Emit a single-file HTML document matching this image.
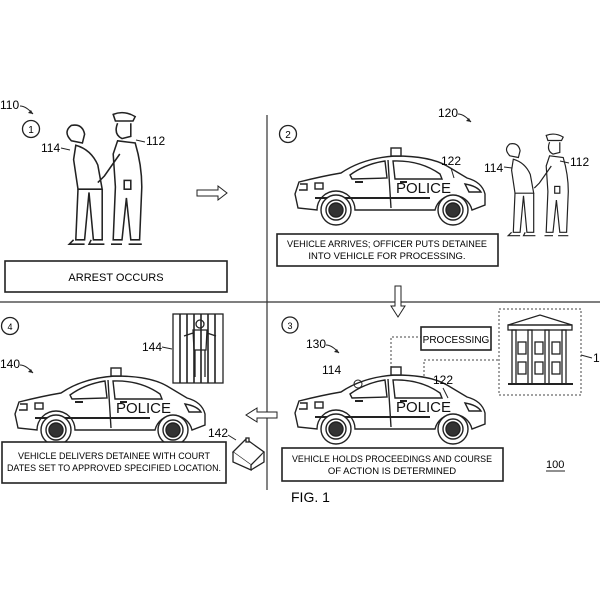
<!DOCTYPE html>
<html><head><style>
html,body{margin:0;padding:0;background:#fff;}
svg{display:block;font-family:"Liberation Sans",Arial,sans-serif;}
</style></head><body>
<svg width="600" height="600" viewBox="0 0 600 600" xmlns="http://www.w3.org/2000/svg">
<defs>
<g id="car" fill="none" stroke="#222" stroke-width="1.4">
  <path d="M3,60 L0,46 L4,34 Q28,28 46,25 Q68,10 100,8 Q135,8 152,18 L172,30 Q187,34 190,46 L190,57 L177,62 A19,19 0 0 0 140,62 L60,62 A19,19 0 0 0 22,62 Z" fill="#fff"/>
  <rect x="96" y="0" width="10" height="8" fill="#fff"/>
  <path d="M55,27 Q70,16 90,13 L92,30 L57,31 Z"/>
  <path d="M98,13 Q125,12 145,26 L147,31 L100,31 Z"/>
  <line x1="93" y1="12" x2="96" y2="60"/>
  <line x1="20" y1="50" x2="135" y2="50" stroke-width="2"/>
  <rect x="20" y="35" width="8" height="6"/>
  <path d="M5,36 L12,36 L12,42 L4,42"/>
  <path d="M170,36 Q182,38 186,44 L174,44 Z"/>
  <line x1="60" y1="34" x2="68" y2="34" stroke-width="2"/>
  <line x1="105" y1="34" x2="112" y2="34" stroke-width="2"/>
  <circle cx="41" cy="62" r="15" fill="#fff"/><circle cx="41" cy="62" r="10"/><circle cx="41" cy="62" r="7" fill="#333"/>
  <circle cx="158" cy="62" r="15" fill="#fff"/><circle cx="158" cy="62" r="10"/><circle cx="158" cy="62" r="7" fill="#333"/>
  <text x="101" y="45" font-size="15" fill="#111" stroke="none">POLICE</text>
</g>
<g id="detainee" fill="none" stroke="#222" stroke-width="1.4">
  <path d="M-6,-52 Q-14,-60 -6,-66 Q4,-68 6,-58 L4,-50 Z" fill="#fff"/>
  <path d="M-2,-48 Q12,-44 18,-30 L22,-8 L0,-8 L-4,-35 Z" fill="#fff"/>
  <path d="M0,-8 L-2,38 L6,38 L10,-5 L14,38 L22,38 L22,-8"/>
  <path d="M-4,38 L-8,42 L6,42 M12,38 L10,42 L24,42"/>
</g>
<g id="officer" fill="none" stroke="#222" stroke-width="1.4">
  <path d="M-6,-70 L10,-70 L12,-74 Q2,-80 -8,-76 Z" fill="#fff"/>
  <path d="M-4,-68 Q-8,-58 0,-54 L8,-56 L8,-68"/>
  <path d="M-4,-52 L12,-50 Q18,-30 18,-10 L16,38 L8,38 L4,0 L0,38 L-8,38 L-6,-10 L-8,-40 Z" fill="#fff"/>
  <path d="M-2,-40 L-16,-20 L-22,-14"/>
  <path d="M-10,42 L0,42 M6,42 L18,42"/>
  <rect x="2" y="-16" width="6" height="8"/>
</g>
</defs>

<line x1="0" y1="302" x2="600" y2="302" stroke="#333" stroke-width="1.2"/>
<line x1="267" y1="115" x2="267" y2="490" stroke="#333" stroke-width="1.2"/>

<!-- Panel 1 -->
<text x="0" y="109" font-size="12">110</text>
<path d="M20,106 Q26,106 33,114" fill="none" stroke="#222"/><path d="M33,114 l-5,-1 l3,-3 z" fill="#222"/>
<circle cx="31" cy="129" r="8.5" fill="#fff" stroke="#222" stroke-width="1.3"/>
<text x="31" y="133" font-size="10" text-anchor="middle">1</text>
<use href="#detainee" transform="translate(78,198) scale(1.1)"/>
<use href="#officer" transform="translate(122,198) scale(1.1)"/>
<text x="41" y="152" font-size="12">114</text><line x1="61" y1="148" x2="70" y2="150" stroke="#222"/>
<text x="146" y="145" font-size="12">112</text><line x1="136" y1="140" x2="145" y2="142" stroke="#222"/>
<path d="M197,190 L218,190 L218,186 L227,193 L218,200 L218,196 L197,196 Z" fill="#fff" stroke="#222"/>
<rect x="5" y="261" width="222" height="31" fill="#fff" stroke="#222" stroke-width="1.6"/>
<text x="116" y="281" font-size="11" text-anchor="middle">ARREST OCCURS</text>

<!-- Panel 2 -->
<text x="438" y="117" font-size="12">120</text>
<path d="M458,114 Q464,114 471,122" fill="none" stroke="#222"/><path d="M471,122 l-5,-1 l3,-3 z" fill="#222"/>
<circle cx="288" cy="134" r="8.5" fill="#fff" stroke="#222" stroke-width="1.3"/>
<text x="288" y="138" font-size="10" text-anchor="middle">2</text>
<use href="#car" transform="translate(295,148)"/>
<text x="441" y="165" font-size="12">122</text><line x1="451" y1="168" x2="454" y2="178" stroke="#222"/>
<use href="#detainee" transform="translate(515,200) scale(0.85)"/>
<use href="#officer" transform="translate(553,200) scale(0.85)"/>
<text x="484" y="172" font-size="12">114</text><line x1="504" y1="167" x2="512" y2="168" stroke="#222"/>
<text x="570" y="166" font-size="12">112</text><line x1="560" y1="161" x2="569" y2="163" stroke="#222"/>
<rect x="277" y="234" width="221" height="32" fill="#fff" stroke="#222" stroke-width="1.6"/>
<text x="387" y="247" font-size="9.5" text-anchor="middle" textLength="200" lengthAdjust="spacingAndGlyphs">VEHICLE ARRIVES; OFFICER PUTS DETAINEE</text>
<text x="387" y="259" font-size="9.5" text-anchor="middle">INTO VEHICLE FOR PROCESSING.</text>
<path d="M395,286 L395,306 L391,306 L398,317 L405,306 L401,306 L401,286 Z" fill="#fff" stroke="#222"/>

<!-- Panel 3 -->
<circle cx="290" cy="325" r="8" fill="#fff" stroke="#222" stroke-width="1.3"/>
<text x="290" y="329" font-size="9" text-anchor="middle">3</text>
<text x="306" y="348" font-size="12">130</text>
<path d="M326,345 Q332,345 339,353" fill="none" stroke="#222"/><path d="M339,353 l-5,-1 l3,-3 z" fill="#222"/>
<text x="322" y="374" font-size="12">114</text>
<polyline points="391,376 391,337 421,337" fill="none" stroke="#444" stroke-dasharray="2,2"/>
<polyline points="424,388 424,360 499,360" fill="none" stroke="#444" stroke-dasharray="2,2"/>
<rect x="421" y="327" width="70" height="23" fill="#fff" stroke="#222" stroke-width="1.6"/>
<text x="456" y="343" font-size="10" text-anchor="middle">PROCESSING</text>
<rect x="499" y="309" width="82" height="86" fill="#fff" stroke="#444" stroke-dasharray="2,2"/>
<g fill="none" stroke="#222" stroke-width="1.3">
  <path d="M508,325 L540,315 L572,325 Z"/>
  <rect x="508" y="325" width="64" height="5"/>
  <line x1="508" y1="384" x2="573" y2="384" stroke-width="2"/>
  <rect x="512" y="330" width="4" height="54"/><rect x="528" y="330" width="4" height="54"/><rect x="545" y="330" width="4" height="54"/><rect x="562" y="330" width="4" height="54"/>
  <rect x="518" y="342" width="8" height="12"/><rect x="535" y="342" width="8" height="12"/><rect x="552" y="342" width="8" height="12"/>
  <rect x="518" y="362" width="8" height="12"/><rect x="535" y="362" width="8" height="12"/><rect x="552" y="362" width="8" height="12"/>
</g>
<line x1="581" y1="355" x2="592" y2="358" stroke="#222"/><text x="593" y="362" font-size="12">13</text>
<use href="#car" transform="translate(295,367)"/>
<circle cx="358" cy="384" r="4" fill="none" stroke="#222"/>
<text x="433" y="384" font-size="12">122</text><line x1="443" y1="388" x2="448" y2="398" stroke="#222"/>
<rect x="282" y="448" width="221" height="33" fill="#fff" stroke="#222" stroke-width="1.6"/>
<text x="392" y="462" font-size="9.5" text-anchor="middle" textLength="200" lengthAdjust="spacingAndGlyphs">VEHICLE HOLDS PROCEEDINGS AND COURSE</text>
<text x="392" y="474" font-size="9.5" text-anchor="middle">OF ACTION IS DETERMINED</text>
<text x="546" y="468" font-size="11">100</text><line x1="546" y1="471" x2="565" y2="471" stroke="#222"/>
<text x="291" y="502" font-size="14">FIG. 1</text>

<!-- Panel 4 -->
<circle cx="10" cy="326" r="8.5" fill="#fff" stroke="#222" stroke-width="1.3"/>
<text x="10" y="330" font-size="9" text-anchor="middle">4</text>
<text x="0" y="368" font-size="12">140</text>
<path d="M20,365 Q26,365 33,373" fill="none" stroke="#222"/><path d="M33,373 l-5,-1 l3,-3 z" fill="#222"/>
<rect x="173" y="314" width="50" height="69" fill="#fff" stroke="#222" stroke-width="1.3"/>
<path d="M196,324 a4,4 0 1 1 8,0 a4,4 0 1 1 -8,0 M193,330 L207,330 L206,350 L194,350 Z M184,336 L193,333 M207,333 L216,336 M195,350 L195,377 M205,350 L205,377" fill="none" stroke="#222" stroke-width="1.3"/>
<g stroke="#222" stroke-width="1.6">
  <line x1="180" y1="314" x2="180" y2="383"/><line x1="187" y1="314" x2="187" y2="383"/><line x1="194" y1="314" x2="194" y2="383"/><line x1="201" y1="314" x2="201" y2="383"/><line x1="208" y1="314" x2="208" y2="383"/><line x1="215" y1="314" x2="215" y2="383"/>
</g>
<text x="142" y="351" font-size="12">144</text><line x1="162" y1="347" x2="172" y2="349" stroke="#222"/>
<use href="#car" transform="translate(15,368)"/>
<path d="M277,412 L257,412 L257,408 L246,415 L257,422 L257,418 L277,418 Z" fill="#fff" stroke="#222"/>
<text x="208" y="437" font-size="12">142</text><line x1="228" y1="435" x2="236" y2="440" stroke="#222"/>
<g fill="#fff" stroke="#222" stroke-width="1.3">
  <path d="M233,452 L246,439 L264,452 L251,465 Z"/>
  <path d="M233,452 L233,462 L251,470 L251,465"/>
  <path d="M251,470 L264,462 L264,452"/>
  <rect x="246" y="438" width="3" height="4"/>
</g>
<rect x="2" y="442" width="224" height="41" fill="#fff" stroke="#222" stroke-width="1.6"/>
<text x="114" y="459" font-size="9.5" text-anchor="middle" textLength="192" lengthAdjust="spacingAndGlyphs">VEHICLE DELIVERS DETAINEE WITH COURT</text>
<text x="114" y="471" font-size="9.5" text-anchor="middle" textLength="214" lengthAdjust="spacingAndGlyphs">DATES SET TO APPROVED SPECIFIED LOCATION.</text>
</svg>
</body></html>
